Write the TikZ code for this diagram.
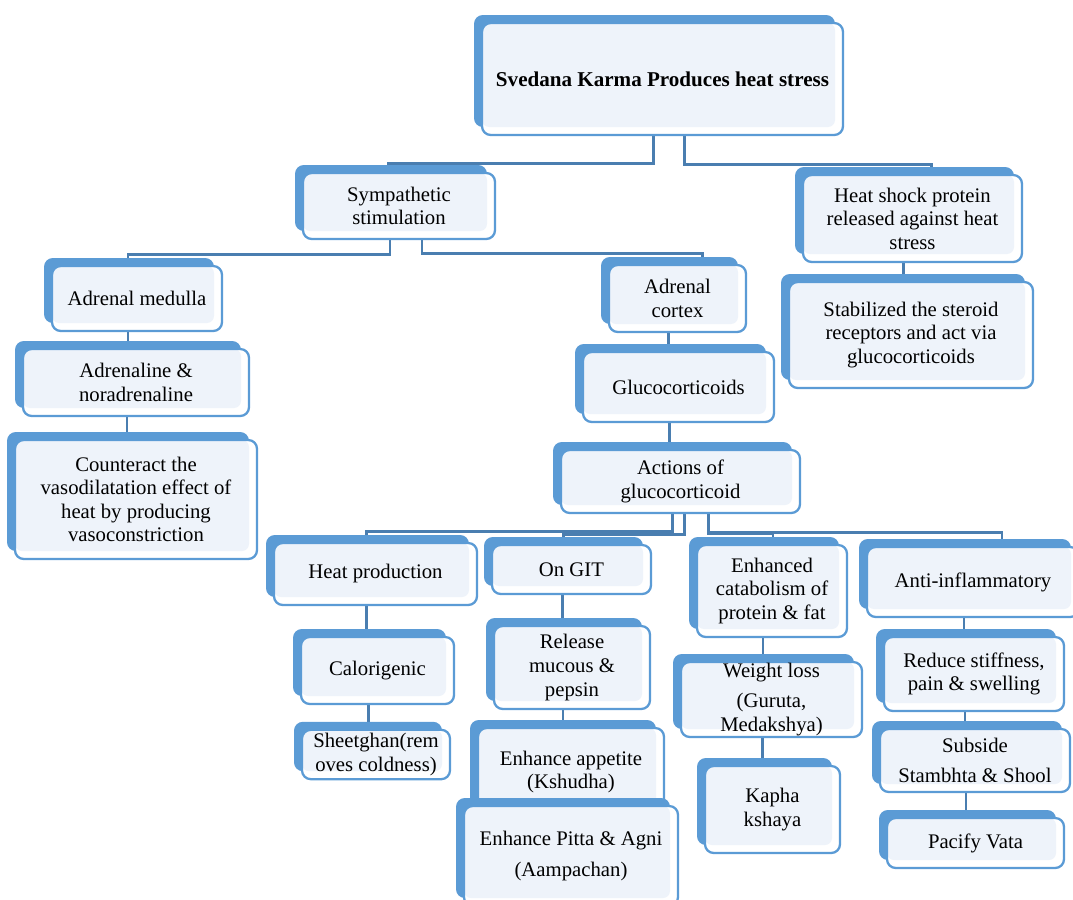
\documentclass[tikz,border=0pt]{standalone}
\usepackage{fontspec}
\setmainfont{Liberation Serif}
\usetikzlibrary{calc,shadows}
\pgfdeclarelayer{background}
\pgfsetlayers{background,main}
\definecolor{shblue}{RGB}{91,155,213}
\definecolor{lightfill}{RGB}{238,243,250}
\definecolor{connblue}{RGB}{74,126,176}
\tikzset{
  box/.style={draw=shblue, line width=1.3pt, fill=white, rounded corners=5pt, align=center, inner sep=2pt,
    font=\fontsize{11.8}{13.4}\selectfont,
    general shadow={fill=shblue, shadow xshift=-0.16cm, shadow yshift=0.16cm},
    path picture={\fill[lightfill, rounded corners=4pt] (path picture bounding box.north west) rectangle ([xshift=-0.16cm,yshift=0.16cm]path picture bounding box.south east);}},
  sz/.style 2 args={minimum width=#1*0.02cm, minimum height=#2*0.02cm},
  conn/.style={draw=connblue, line width=1.6pt}
}

\begin{document}
\begin{tikzpicture}[x=0.02cm,y=-0.02cm]
\useasboundingbox (0,0) rectangle (1073,900);
\node[box,sz={361}{112},font=\fontsize{12}{14}\selectfont\bfseries] (top) at (662.5,79) {Svedana Karma Produces heat stress};
\node[box,sz={192}{66}] (symp) at (399,206) {Sympathetic\\stimulation};
\node[box,sz={219}{87}] (hs) at (912.5,218.5) {Heat shock protein\\released against heat\\stress};
\node[box,sz={244}{106}] (stab) at (911,335) {Stabilized the steroid\\receptors and act via\\glucocorticoids};
% left branch
\node[box,sz={170}{65}] (am) at (137,298.5) {Adrenal medulla};
\node[box,sz={226}{67}] (an) at (136,382.5) {Adrenaline \&\\noradrenaline};
\node[box,sz={242}{119}] (cnt) at (136,499.5) {Counteract the\\vasodilatation effect of\\heat by producing\\vasoconstriction};
% right branch
\node[box,sz={137}{67}] (cortex) at (677.5,298.5) {Adrenal\\cortex};
\node[box,sz={191}{70}] (gluco) at (678.5,387) {Glucocorticoids};
\node[box,sz={239}{63}] (act) at (680.5,481.5) {Actions of\\glucocorticoid};
% actions
\node[box,sz={203}{62}] (hp) at (375.5,574) {Heat production};
\node[box,sz={159}{49}] (git) at (571.5,569.5) {On GIT};
\node[box,sz={150}{92}] (cat) at (772,591) {Enhanced\\catabolism of\\protein \& fat};
\node[box,sz={212}{70}] (anti) at (973,582) {Anti-inflammatory};
\node[box,sz={153}{67}] (cal) at (377.5,670.5) {Calorigenic};
\node[box,sz={148}{49}] (sheet) at (376,754.5) {Sheetghan(rem\\oves coldness)};
\node[box,sz={156}{83}] (rel) at (572,667.5) {Release\\mucous \&\\pepsin};
\node[box,sz={186}{88}] (app) at (571,772) {Enhance appetite\\(Kshudha)};
\node[box,sz={214}{100}] (pitta) at (571,856) {Enhance Pitta \& Agni\\[4pt](Aampachan)};
\node[box,sz={181}{75},inner ysep=0pt] (wl) at (771.5,699.5) {Weight loss\\[4pt](Guruta,\\Medakshya)};
\node[box,sz={135}{87}] (kapha) at (772.5,809.5) {Kapha\\kshaya};
\node[box,sz={180}{74}] (red) at (974,674) {Reduce stiffness,\\pain \& swelling};
\node[box,sz={190}{63}] (sub) at (975,760.5) {Subside\\[4pt]Stambhta \& Shool};
\node[box,sz={177}{50}] (pac) at (975.5,843) {Pacify Vata};

\begin{pgfonlayer}{background}
\draw[conn] ($(top.south)+(-9,0)$) -- ++(0,27) -| ($(symp.north)+(-11,0)$);
\draw[conn] ($(top.south)+(22,0)$) -- ++(0,28) -| ($(hs.north)+(19,0)$);
\draw[conn] ($(symp.south)+(-9,0)$) -- ++(0,14) -| ($(am.north)+(-9,0)$);
\draw[conn] ($(symp.south)+(23,0)$) -- ++(0,13) -| ($(cortex.north)+(25,0)$);
\draw[conn] ($(act.south)+(-8,0)$) -- ++(0,17) -| ($(hp.north)+(-9,0)$);
\draw[conn] ($(act.south)+(4,0)$) -- ++(0,20) -| ($(git.north)+(-8,0)$);
\draw[conn] ($(act.south)+(28,0)$) -- ++(0,19) -| ($(cat.north)+(1,0)$);
\draw[conn] ($(act.south)+(28,0)$) -- ++(0,18) -| ($(anti.north)+(29,0)$);
\foreach \a/\b in {am/an, an/cnt, hs/stab, cortex/gluco, gluco/act, hp/cal, cal/sheet, git/rel, rel/app, app/pitta, cat/wl, wl/kapha, anti/red, red/sub, sub/pac}
  \draw[conn] ($(\a.south)+(-9,0)$) coordinate (p) -- (p |- \b.north);
\end{pgfonlayer}
\end{tikzpicture}
\end{document}
